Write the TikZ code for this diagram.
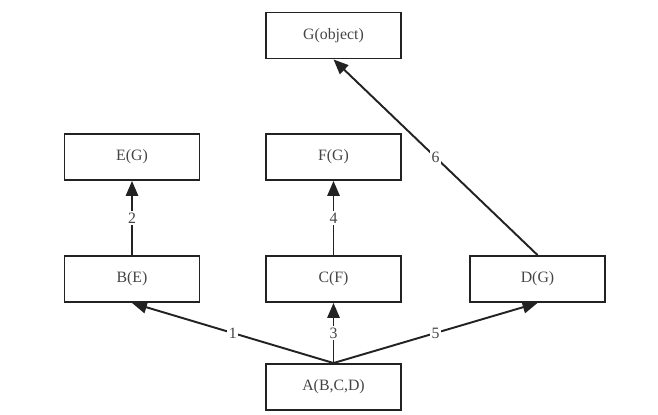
\documentclass[tikz,border=0pt]{standalone}
\usepackage{fontspec}
\setmainfont{Liberation Serif}
\usetikzlibrary{arrows.meta}
\definecolor{clsline}{HTML}{222222}
\definecolor{clstext}{HTML}{444444}

\begin{document}
\begin{tikzpicture}[x=0.02cm, y=-0.02cm, line width=1.1pt,
    cls/.style={draw=clsline, minimum width=2.7cm, minimum height=0.92cm,
                inner sep=0pt, font=\fontsize{9}{11}\selectfont, text=clstext},
    num/.style={fill=white, inner sep=1pt, font=\fontsize{9}{11}\selectfont,
                text=clstext},
    inh/.style={draw=clsline, -{Triangle[length=8.5pt, width=7pt]}}]
  \useasboundingbox (0,0) rectangle (658,415);
  % classes
  \node[cls] (g) at (333.5,35.5) {G(object)};
  \node[cls] (e) at (132,157) {E(G)};
  \node[cls] (f) at (333.5,157) {F(G)};
  \node[cls] (b) at (132,279) {B(E)};
  \node[cls] (c) at (333.5,279) {C(F)};
  \node[cls] (d) at (537.5,279) {D(G)};
  \node[cls] (a) at (333.5,387) {A(B,C,D)};
  % lookup order
  \foreach \s/\t/\k in {a/b/1, b/e/2, a/c/3, c/f/4, a/d/5, d/g/6}{
    \draw[inh] (\s.north) -- (\t.south) node[num, midway] {\k};}
\end{tikzpicture}
\end{document}
